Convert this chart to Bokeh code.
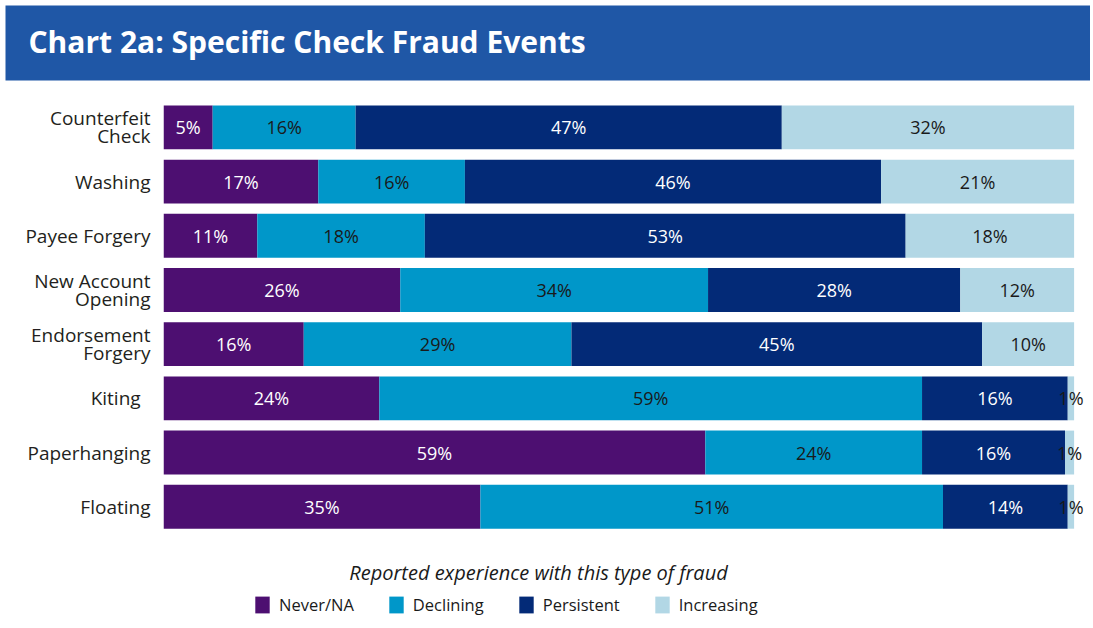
from bokeh.plotting import figure
from bokeh.models import (ColumnDataSource, Range1d, Legend, LegendItem, Title, Label,
                          FixedTicker)
from bokeh.embed import file_html
from bokeh.resources import INLINE
from bokeh.core.properties import value

# ---------------- data ----------------
TITLE = "Chart 2a: Specific Check Fraud Events"
LEGEND_TITLE = "Reported experience with this type of fraud"
categories = ["Counterfeit\nCheck", "Washing", "Payee Forgery", "New Account\nOpening",
              "Endorsement\nForgery", "Kiting\u00a0\u00a0", "Paperhanging", "Floating"]
series_names = ["Never/NA", "Declining", "Persistent", "Increasing"]
# segment shares (%) as drawn
never = [5.4, 17.0, 10.3, 26.0, 15.4, 23.7, 59.5, 34.8]
declining = [15.7, 16.1, 18.4, 33.8, 29.4, 59.6, 23.8, 50.8]
persistent = [46.8, 45.7, 52.8, 27.7, 45.1, 16.0, 15.7, 13.7]
increasing = [32.1, 21.2, 18.5, 12.5, 10.1, 0.7, 1.0, 0.7]
# printed labels (%)
never_lbl = [5, 17, 11, 26, 16, 24, 59, 35]
declining_lbl = [16, 16, 18, 34, 29, 59, 24, 51]
persistent_lbl = [47, 46, 53, 28, 45, 16, 16, 14]
increasing_lbl = [32, 21, 18, 12, 10, 1, 1, 1]

# ---------------- style ----------------
HEADER = "#1F57A6"
colors = ["#4D0F71", "#0097C9", "#032A77", "#B2D7E5"]
text_colors = ["#FFFFFF", "#1A1A1A", "#FFFFFF", "#1A1A1A"]
FONT = "Open Sans"
X_END = 101.8                  # frame runs a little past 100% so edge labels are not clipped
Y_TOP, Y_BOTTOM = 7.81, -2.21  # room above the bars and under them for the legend

n = len(categories)
ypos = [n - 1 - i for i in range(n)]   # first category on top

p = figure(width=1090, height=626,
           x_range=Range1d(0, X_END), y_range=Range1d(Y_BOTTOM, Y_TOP),
           toolbar_location=None, output_backend="svg",
           min_border_left=163, min_border_right=0, min_border_top=0, min_border_bottom=0)
p.outline_line_color = None
p.grid.visible = False
p.xaxis.visible = False
p.yaxis.ticker = FixedTicker(ticks=ypos)
p.yaxis.major_label_overrides = {y: c for y, c in zip(ypos, categories)}
p.yaxis.axis_line_color = None
p.yaxis.major_tick_line_color = None
p.yaxis.minor_tick_line_color = None
p.yaxis.major_label_standoff = 7
p.yaxis.major_label_text_font = FONT
p.yaxis.major_label_text_font_size = "19px"
p.yaxis.major_label_text_color = "#231F20"
p.yaxis.major_label_text_line_height = 0.7

# header band: title with a wide blue background box
p.add_layout(Title(text=TITLE, align="left", offset=-158, text_color="white",
                   text_font=FONT, text_font_size="30px", text_font_style="bold",
                   background_fill_color=HEADER, border_line_color=None,
                   padding=dict(left=23, right=900, top=15, bottom=19), standoff=6),
             "above")

series = [never, declining, persistent, increasing]
labels = [never_lbl, declining_lbl, persistent_lbl, increasing_lbl]
left = [0.0] * n
items = []
for name, vals, lbls, col, tcol in zip(series_names, series, labels, colors, text_colors):
    right = [l + v for l, v in zip(left, vals)]
    mid = [(l + r) / 2 for l, r in zip(left, right)]
    src = ColumnDataSource(dict(y=ypos, left=left, right=right, mid=mid,
                                txt=[f"{v}%" for v in lbls]))
    r = p.hbar(y="y", left="left", right="right", height=0.81, source=src,
               fill_color=col, line_color=None)
    items.append(LegendItem(label=name, renderers=[r]))
    p.text(x="mid", y="y", text="txt", source=src,
           text_align="center", text_baseline="middle",
           text_color=tcol, text_font=value(FONT), text_font_size=value("18px"))
    left = right

legend = Legend(items=items, orientation="horizontal", location=(90, 10),
                padding=0, margin=0, spacing=33, glyph_width=18, glyph_height=21,
                label_standoff=8, label_height=21, label_text_font=FONT,
                label_text_font_size="16.5px", label_text_color="#1A1A1A",
                background_fill_alpha=0, border_line_color=None)
p.add_layout(legend, "center")
p.add_layout(Label(x=375, y=54, x_units="screen", y_units="screen", text=LEGEND_TITLE,
                   text_align="center", text_baseline="middle", text_font=FONT,
                   text_font_size="20px", text_font_style="italic", text_color="#1A1A1A"))

open("out.html", "w").write(file_html(p, INLINE))
